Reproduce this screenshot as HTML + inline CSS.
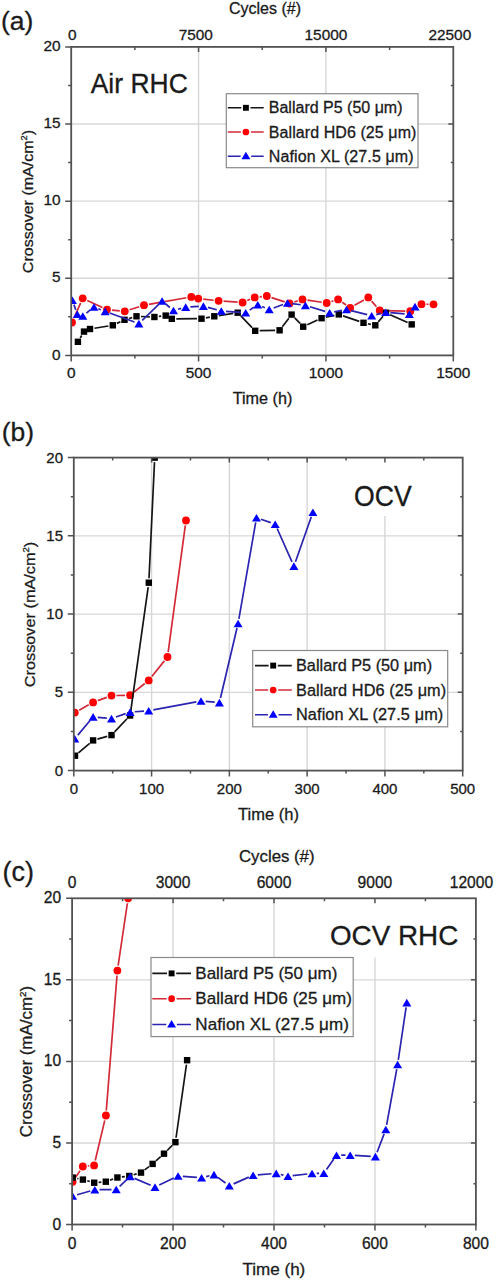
<!DOCTYPE html>
<html><head><meta charset="utf-8"><title>Crossover</title>
<style>html,body{margin:0;padding:0;background:#fff;}svg{display:block;}text{font-family:"Liberation Sans", sans-serif;fill:#1a1a1a;stroke:#1a1a1a;stroke-width:0.3px;}</style>
</head><body>
<svg width="496" height="1280" viewBox="0 0 496 1280">
<rect width="496" height="1280" fill="#fff"/>
<clipPath id="clipA"><rect x="71.2" y="46.9" width="382.1" height="308.5"/></clipPath>
<path d="M198.57,46.9V355.4M325.93,46.9V355.4M71.2,278.27H453.3M71.2,201.15H453.3M71.2,124.02H453.3" stroke="#d7d7d7" stroke-width="1.4" fill="none"/>
<g clip-path="url(#clipA)">
<path d="M74.02,317.93L80.68,302.87M87.23,300.41L102.47,307.49M111.98,310.08L119.82,310.82M129.57,309.79L139.23,306.71M148.92,304.34L186.38,297.76M203.27,299.14L213.63,300.26M223.59,301.15L237.61,302.15M247.21,300.56L250.09,299.34M259.67,296.83L261.83,296.57M271.55,297.57L284.75,301.93M294.27,302L297.73,300.9M307.45,300.14L321.75,302.26M331.47,301.49L333.33,300.91M342.21,302.25L346.09,304.95M354.54,305.31L363.96,299.89M371.6,301.16L376.4,306.64M384.7,310.53L405.3,311.07M414.54,308.55L417.26,306.85M426.5,304.24L428.5,304.26" stroke="#d42a38" stroke-width="1.7" fill="none" stroke-linecap="butt"/>
<circle cx="72" cy="322.5" r="3.9" fill="#f00"/>
<circle cx="82.7" cy="298.3" r="3.9" fill="#f00"/>
<circle cx="107" cy="309.6" r="3.9" fill="#f00"/>
<circle cx="124.8" cy="311.3" r="3.9" fill="#f00"/>
<circle cx="144" cy="305.2" r="3.9" fill="#f00"/>
<circle cx="191.3" cy="296.9" r="3.9" fill="#f00"/>
<circle cx="198.3" cy="298.6" r="3.9" fill="#f00"/>
<circle cx="218.6" cy="300.8" r="3.9" fill="#f00"/>
<circle cx="242.6" cy="302.5" r="3.9" fill="#f00"/>
<circle cx="254.7" cy="297.4" r="3.9" fill="#f00"/>
<circle cx="266.8" cy="296" r="3.9" fill="#f00"/>
<circle cx="289.5" cy="303.5" r="3.9" fill="#f00"/>
<circle cx="302.5" cy="299.4" r="3.9" fill="#f00"/>
<circle cx="326.7" cy="303" r="3.9" fill="#f00"/>
<circle cx="338.1" cy="299.4" r="3.9" fill="#f00"/>
<circle cx="350.2" cy="307.8" r="3.9" fill="#f00"/>
<circle cx="368.3" cy="297.4" r="3.9" fill="#f00"/>
<circle cx="379.7" cy="310.4" r="3.9" fill="#f00"/>
<circle cx="410.3" cy="311.2" r="3.9" fill="#f00"/>
<circle cx="421.5" cy="304.2" r="3.9" fill="#f00"/>
<circle cx="433.5" cy="304.3" r="3.9" fill="#f00"/>
<path d="M80.21,337.94L81.69,335.46M94.44,328.28L108.36,326.02M116.87,323.39L120.43,321.71M128.82,318.54L132.18,317.56M141,316.48L149.9,316.82M158.87,316.45L161.23,316.15M176.3,318.78L197,318.72M205.92,317.87L209.88,317.13M218.75,315.62L233.25,313.38M240.83,315.94L252.07,327.56M259.7,330.71L275.1,330.39M282.33,326.72L288.87,318.18M294.71,317.85L300.09,323.45M307.29,324.81L317.51,320.09M325.99,317.23L334.41,315.37M343.06,315.85L359.24,321.35M367.9,323.73L370.9,324.37M378.23,321.88L383.07,316.22M390.1,314.65L407.6,322.55" stroke="#151515" stroke-width="1.7" fill="none" stroke-linecap="butt"/>
<rect x="74.7" y="338.6" width="6.4" height="6.4" fill="#000"/>
<rect x="80.8" y="328.4" width="6.4" height="6.4" fill="#000"/>
<rect x="86.8" y="325.8" width="6.4" height="6.4" fill="#000"/>
<rect x="109.6" y="322.1" width="6.4" height="6.4" fill="#000"/>
<rect x="121.3" y="316.6" width="6.4" height="6.4" fill="#000"/>
<rect x="133.3" y="313.1" width="6.4" height="6.4" fill="#000"/>
<rect x="151.2" y="313.8" width="6.4" height="6.4" fill="#000"/>
<rect x="162.5" y="312.4" width="6.4" height="6.4" fill="#000"/>
<rect x="168.6" y="315.6" width="6.4" height="6.4" fill="#000"/>
<rect x="198.3" y="315.5" width="6.4" height="6.4" fill="#000"/>
<rect x="211.1" y="313.1" width="6.4" height="6.4" fill="#000"/>
<rect x="234.5" y="309.5" width="6.4" height="6.4" fill="#000"/>
<rect x="252" y="327.6" width="6.4" height="6.4" fill="#000"/>
<rect x="276.4" y="327.1" width="6.4" height="6.4" fill="#000"/>
<rect x="288.4" y="311.4" width="6.4" height="6.4" fill="#000"/>
<rect x="300" y="323.5" width="6.4" height="6.4" fill="#000"/>
<rect x="318.4" y="315" width="6.4" height="6.4" fill="#000"/>
<rect x="335.6" y="311.2" width="6.4" height="6.4" fill="#000"/>
<rect x="360.3" y="319.6" width="6.4" height="6.4" fill="#000"/>
<rect x="372.1" y="322.1" width="6.4" height="6.4" fill="#000"/>
<rect x="382.8" y="309.6" width="6.4" height="6.4" fill="#000"/>
<rect x="408.5" y="321.2" width="6.4" height="6.4" fill="#000"/>
<path d="M73.94,304.64L75.76,309.86M86.46,313.06L90.34,309.94M98.37,308.72L100.83,309.68M109.62,313L134.48,322M142.27,320.32L158.73,304.28M165.71,304.01L169.89,307.49M178.03,309.24L181.17,308.36M190.39,306.83L198.71,306.37M207.93,307.34L216.77,309.76M225.99,311.33L241.01,312.37M249.62,310.11L253.88,307.29M262.13,306.52L264.87,307.68M273.63,307.93L283.07,304.57M292.16,303.62L300.74,304.78M309.9,306.76L325.1,311.34M334.22,311.83L341.88,310.37M351.06,310.64L367.14,314.66M376.26,314.66L381.14,313.44M390.38,312.7L404.62,313.9M412.1,310.52L412.2,310.38" stroke="#2a24b0" stroke-width="1.7" fill="none" stroke-linecap="butt"/>
<path d="M72.4,296.42 L76.9,303.98 L67.9,303.98 Z" fill="#00f"/>
<path d="M77.3,310.52 L81.8,318.08 L72.8,318.08 Z" fill="#00f"/>
<path d="M82.8,312.22 L87.3,319.78 L78.3,319.78 Z" fill="#00f"/>
<path d="M94,303.22 L98.5,310.78 L89.5,310.78 Z" fill="#00f"/>
<path d="M105.2,307.62 L109.7,315.18 L100.7,315.18 Z" fill="#00f"/>
<path d="M138.9,319.82 L143.4,327.38 L134.4,327.38 Z" fill="#00f"/>
<path d="M162.1,297.22 L166.6,304.78 L157.6,304.78 Z" fill="#00f"/>
<path d="M173.5,306.72 L178,314.28 L169,314.28 Z" fill="#00f"/>
<path d="M185.7,303.32 L190.2,310.88 L181.2,310.88 Z" fill="#00f"/>
<path d="M203.4,302.32 L207.9,309.88 L198.9,309.88 Z" fill="#00f"/>
<path d="M221.3,307.22 L225.8,314.78 L216.8,314.78 Z" fill="#00f"/>
<path d="M245.7,308.92 L250.2,316.48 L241.2,316.48 Z" fill="#00f"/>
<path d="M257.8,300.92 L262.3,308.48 L253.3,308.48 Z" fill="#00f"/>
<path d="M269.2,305.72 L273.7,313.28 L264.7,313.28 Z" fill="#00f"/>
<path d="M287.5,299.22 L292,306.78 L283,306.78 Z" fill="#00f"/>
<path d="M305.4,301.62 L309.9,309.18 L300.9,309.18 Z" fill="#00f"/>
<path d="M329.6,308.92 L334.1,316.48 L325.1,316.48 Z" fill="#00f"/>
<path d="M346.5,305.72 L351,313.28 L342,313.28 Z" fill="#00f"/>
<path d="M371.7,312.02 L376.2,319.58 L367.2,319.58 Z" fill="#00f"/>
<path d="M385.7,308.52 L390.2,316.08 L381.2,316.08 Z" fill="#00f"/>
<path d="M409.3,310.52 L413.8,318.08 L404.8,318.08 Z" fill="#00f"/>
<path d="M415,302.82 L419.5,310.38 L410.5,310.38 Z" fill="#00f"/>
</g>
<rect x="226.3" y="93.7" width="191.7" height="74" fill="#fff" stroke="#8a8a8a" stroke-width="1.2"/>
<path d="M227.8,107.8H241.3M250.5,107.8H263.7" stroke="#151515" stroke-width="1.6"/>
<rect x="242.95" y="104.85" width="5.9" height="5.9" fill="#000"/>
<text letter-spacing="0" transform="translate(268.8,113.3) scale(1,1.0)" font-size="16">Ballard P5 (50 μm)</text>
<path d="M227.8,132H240.9M250.9,132H263.7" stroke="#d42a38" stroke-width="1.6"/>
<circle cx="245.9" cy="132" r="3.35" fill="#f00"/>
<text letter-spacing="0.08" transform="translate(268.8,137.5) scale(1,1.0)" font-size="16">Ballard HD6 (25 μm)</text>
<path d="M227.8,156.2H240.6M251.2,156.2H263.7" stroke="#2a24b0" stroke-width="1.6"/>
<path d="M245.9,151.76 L250.35,159.24 L241.45,159.24 Z" fill="#00f"/>
<text letter-spacing="0.1" transform="translate(268.8,161.7) scale(1,1.0)" font-size="16">Nafion XL (27.5 μm)</text>
<text transform="translate(90.7,92.6) scale(1,1.055)" font-size="26.5">Air RHC</text>
<path d="M71.2,355.4v6M198.57,355.4v6M198.57,46.9v5M325.93,355.4v6M325.93,46.9v5M453.3,355.4v6M134.88,355.4v3M134.88,46.9v3M262.25,355.4v3M262.25,46.9v3M389.62,355.4v3M389.62,46.9v3M71.2,355.4h-6M71.2,278.27h-6M453.3,278.27h-5M71.2,201.15h-6M453.3,201.15h-5M71.2,124.02h-6M453.3,124.02h-5M71.2,46.9h-6M71.2,316.84h-3M453.3,316.84h-2.5M71.2,239.71h-3M453.3,239.71h-2.5M71.2,162.59h-3M453.3,162.59h-2.5M71.2,85.46h-3M453.3,85.46h-2.5" stroke="#525252" stroke-width="1.5" fill="none"/>
<rect x="71.2" y="46.9" width="382.1" height="308.5" fill="none" stroke="#525252" stroke-width="1.8"/>
<text transform="translate(71.2,377.6) scale(1,1.0)" font-size="15.4" text-anchor="middle">0</text>
<text transform="translate(198.57,377.6) scale(1,1.0)" font-size="15.4" text-anchor="middle">500</text>
<text transform="translate(325.93,377.6) scale(1,1.0)" font-size="15.4" text-anchor="middle">1000</text>
<text transform="translate(453.3,377.6) scale(1,1.0)" font-size="15.4" text-anchor="middle">1500</text>
<text transform="translate(60.6,359.6) scale(1,1.0)" font-size="15.4" text-anchor="end">0</text>
<text transform="translate(60.6,282.47) scale(1,1.0)" font-size="15.4" text-anchor="end">5</text>
<text transform="translate(60.6,205.35) scale(1,1.0)" font-size="15.4" text-anchor="end">10</text>
<text transform="translate(60.6,128.22) scale(1,1.0)" font-size="15.4" text-anchor="end">15</text>
<text transform="translate(60.6,51.1) scale(1,1.0)" font-size="15.4" text-anchor="end">20</text>
<text transform="translate(72.2,39.8) scale(1,1.0)" font-size="15.4" text-anchor="middle">0</text>
<text transform="translate(195.8,39.8) scale(1,1.0)" font-size="15.4" text-anchor="middle">7500</text>
<text transform="translate(325.93,39.8) scale(1,1.0)" font-size="15.4" text-anchor="middle">15000</text>
<text transform="translate(449.8,39.8) scale(1,1.0)" font-size="15.4" text-anchor="middle">22500</text>
<text transform="translate(229,13.6) scale(1,1.0)" font-size="16">Cycles (#)</text>
<text transform="translate(262.5,404) scale(1,1.0)" font-size="16.2" text-anchor="middle">Time (h)</text>
<text transform="translate(33,201.5) rotate(-90) scale(1,0.93)" font-size="16.05" text-anchor="middle">Crossover (mA/cm<tspan font-size="9.31" dy="-6.1">2</tspan><tspan dy="6.1">)</tspan></text>
<text transform="translate(1,29.5) scale(1,1.0)" font-size="26.5">(a)</text>
<clipPath id="clipB"><rect x="73.8" y="457.6" width="388.9" height="313"/></clipPath>
<path d="M151.58,457.6V770.6M229.36,457.6V770.6M307.14,457.6V770.6M384.92,457.6V770.6M73.8,692.35H462.7M73.8,614.1H462.7M73.8,535.85H462.7" stroke="#d7d7d7" stroke-width="1.4" fill="none"/>
<rect x="344" y="458" width="78" height="58" fill="#fff"/>
<g clip-path="url(#clipB)">
<path d="M79.17,710.17L88.73,704.83M97.79,700.67L106.81,697.33M116.5,695.49L125.1,695.31M134.01,692.09L144.79,683.51M151.83,676.5L164.37,660.9M168.17,652.05L185.33,525.45" stroke="#d42a38" stroke-width="1.7" fill="none" stroke-linecap="butt"/>
<circle cx="74.8" cy="712.6" r="3.9" fill="#f00"/>
<circle cx="93.1" cy="702.4" r="3.9" fill="#f00"/>
<circle cx="111.5" cy="695.6" r="3.9" fill="#f00"/>
<circle cx="130.1" cy="695.2" r="3.9" fill="#f00"/>
<circle cx="148.7" cy="680.4" r="3.9" fill="#f00"/>
<circle cx="167.5" cy="657" r="3.9" fill="#f00"/>
<circle cx="186" cy="520.5" r="3.9" fill="#f00"/>
<path d="M78.44,752.79L89.66,743.31M97.42,739.15L107.18,736.35M114.6,731.84L127,718.76M130.73,711.04L148.17,587.16M149.01,578.2L154.49,462.1" stroke="#151515" stroke-width="1.7" fill="none" stroke-linecap="butt"/>
<rect x="71.8" y="752.5" width="6.4" height="6.4" fill="#000"/>
<rect x="89.9" y="737.2" width="6.4" height="6.4" fill="#000"/>
<rect x="108.3" y="731.9" width="6.4" height="6.4" fill="#000"/>
<rect x="126.9" y="712.3" width="6.4" height="6.4" fill="#000"/>
<rect x="145.6" y="579.5" width="6.4" height="6.4" fill="#000"/>
<rect x="151.5" y="454.4" width="6.4" height="6.4" fill="#000"/>
<path d="M77.82,735.1L90.08,720.5M97.78,717.33L106.82,718.17M115.94,717.05L125.66,713.65M134.79,711.75L144.01,711.05M153.32,709.84L196.38,701.86M205.68,701.41L214.72,702.19M220.48,698.03L237.02,628.07M238.91,618.87L255.69,522.33M260.94,519.24L270.76,522.66M277.12,528.49L291.98,561.81M295.47,561.67L311.33,516.73" stroke="#2a24b0" stroke-width="1.7" fill="none" stroke-linecap="butt"/>
<path d="M74.8,734.92 L79.3,742.48 L70.3,742.48 Z" fill="#00f"/>
<path d="M93.1,713.12 L97.6,720.68 L88.6,720.68 Z" fill="#00f"/>
<path d="M111.5,714.82 L116,722.38 L107,722.38 Z" fill="#00f"/>
<path d="M130.1,708.32 L134.6,715.88 L125.6,715.88 Z" fill="#00f"/>
<path d="M148.7,706.92 L153.2,714.48 L144.2,714.48 Z" fill="#00f"/>
<path d="M201,697.22 L205.5,704.78 L196.5,704.78 Z" fill="#00f"/>
<path d="M219.4,698.82 L223.9,706.38 L214.9,706.38 Z" fill="#00f"/>
<path d="M238.1,619.72 L242.6,627.28 L233.6,627.28 Z" fill="#00f"/>
<path d="M256.5,513.92 L261,521.48 L252,521.48 Z" fill="#00f"/>
<path d="M275.2,520.42 L279.7,527.98 L270.7,527.98 Z" fill="#00f"/>
<path d="M293.9,562.32 L298.4,569.88 L289.4,569.88 Z" fill="#00f"/>
<path d="M312.9,508.52 L317.4,516.08 L308.4,516.08 Z" fill="#00f"/>
</g>
<rect x="252.7" y="650.5" width="195" height="76.3" fill="#fff" stroke="#8a8a8a" stroke-width="1.2"/>
<path d="M255,665.6H268.6M277.8,665.6H291.8" stroke="#151515" stroke-width="1.6"/>
<rect x="270.25" y="662.65" width="5.9" height="5.9" fill="#000"/>
<text letter-spacing="0" transform="translate(296,671.1) scale(1,1.0)" font-size="16.3">Ballard P5 (50 μm)</text>
<path d="M255,690H268.2M278.2,690H291.8" stroke="#d42a38" stroke-width="1.6"/>
<circle cx="273.2" cy="690" r="3.35" fill="#f00"/>
<text letter-spacing="0.08" transform="translate(296,695.5) scale(1,1.0)" font-size="16.3">Ballard HD6 (25 μm)</text>
<path d="M255,714.8H267.9M278.5,714.8H291.8" stroke="#2a24b0" stroke-width="1.6"/>
<path d="M273.2,710.36 L277.65,717.84 L268.75,717.84 Z" fill="#00f"/>
<text letter-spacing="0.1" transform="translate(296,720.3) scale(1,1.0)" font-size="16.3">Nafion XL (27.5 μm)</text>
<text transform="translate(354,505.6) scale(1,1.08)" font-size="26.6">OCV</text>
<path d="M73.8,770.6v6M151.58,770.6v6M151.58,457.6v5M229.36,770.6v6M229.36,457.6v5M307.14,770.6v6M307.14,457.6v5M384.92,770.6v6M384.92,457.6v5M462.7,770.6v6M112.69,770.6v3M112.69,457.6v3M190.47,770.6v3M190.47,457.6v3M268.25,770.6v3M268.25,457.6v3M346.03,770.6v3M346.03,457.6v3M423.81,770.6v3M423.81,457.6v3M73.8,770.6h-6M73.8,692.35h-6M462.7,692.35h-5M73.8,614.1h-6M462.7,614.1h-5M73.8,535.85h-6M462.7,535.85h-5M73.8,457.6h-6M73.8,731.48h-3M462.7,731.48h-2.5M73.8,653.23h-3M462.7,653.23h-2.5M73.8,574.98h-3M462.7,574.98h-2.5M73.8,496.73h-3M462.7,496.73h-2.5" stroke="#525252" stroke-width="1.5" fill="none"/>
<rect x="73.8" y="457.6" width="388.9" height="313" fill="none" stroke="#525252" stroke-width="1.8"/>
<text transform="translate(73.8,794) scale(1,1.0)" font-size="15" text-anchor="middle">0</text>
<text transform="translate(151.58,794) scale(1,1.0)" font-size="15" text-anchor="middle">100</text>
<text transform="translate(229.36,794) scale(1,1.0)" font-size="15" text-anchor="middle">200</text>
<text transform="translate(307.14,794) scale(1,1.0)" font-size="15" text-anchor="middle">300</text>
<text transform="translate(384.92,794) scale(1,1.0)" font-size="15" text-anchor="middle">400</text>
<text transform="translate(462.7,794) scale(1,1.0)" font-size="15" text-anchor="middle">500</text>
<text transform="translate(63,775.6) scale(1,1.0)" font-size="15" text-anchor="end">0</text>
<text transform="translate(63,697.35) scale(1,1.0)" font-size="15" text-anchor="end">5</text>
<text transform="translate(63,619.1) scale(1,1.0)" font-size="15" text-anchor="end">10</text>
<text transform="translate(63,540.85) scale(1,1.0)" font-size="15" text-anchor="end">15</text>
<text transform="translate(63,462.6) scale(1,1.0)" font-size="15" text-anchor="end">20</text>
<text transform="translate(268.5,820.4) scale(1,1.0)" font-size="16.5" text-anchor="middle">Time (h)</text>
<text transform="translate(35.1,614.5) rotate(-90) scale(1,0.93)" font-size="16.3" text-anchor="middle">Crossover (mA/cm<tspan font-size="9.45" dy="-6.19">2</tspan><tspan dy="6.19">)</tspan></text>
<text transform="translate(1.8,440.5) scale(1,1.0)" font-size="26.5">(b)</text>
<clipPath id="clipC"><rect x="72.1" y="898.3" width="403.8" height="326.2"/></clipPath>
<path d="M173.05,898.3V1224.5M274,898.3V1224.5M374.95,898.3V1224.5M72.1,1142.95H475.9M72.1,1061.4H475.9M72.1,979.85H475.9" stroke="#d7d7d7" stroke-width="1.4" fill="none"/>
<rect x="320" y="899" width="148" height="58.5" fill="#fff"/>
<g clip-path="url(#clipC)">
<path d="M75.37,1177.64L80.03,1170.66M87.78,1166.02L89.12,1165.88M95.25,1160.53L104.75,1120.37M106.3,1110.52L117,975.58M118.13,965.65L127.37,903.25" stroke="#d42a38" stroke-width="1.7" fill="none" stroke-linecap="butt"/>
<circle cx="72.6" cy="1181.8" r="3.9" fill="#f00"/>
<circle cx="82.8" cy="1166.5" r="3.9" fill="#f00"/>
<circle cx="94.1" cy="1165.4" r="3.9" fill="#f00"/>
<circle cx="105.9" cy="1115.5" r="3.9" fill="#f00"/>
<circle cx="117.4" cy="970.6" r="3.9" fill="#f00"/>
<circle cx="128.1" cy="898.3" r="3.9" fill="#f00"/>
<path d="M77.21,1178.47L78.49,1178.73M87.24,1180.79L89.86,1181.51M98.68,1182.31L101.32,1182.09M110.03,1180.17L113.17,1179.03M121.86,1176.94L124.84,1176.56M133.62,1174.74L136.68,1173.86M144.6,1169.9L149,1166.6M155.95,1160.9L160.65,1156.7M167.17,1150.5L172.23,1145.4M176.04,1137.75L186.46,1064.65" stroke="#151515" stroke-width="1.7" fill="none" stroke-linecap="butt"/>
<rect x="69.6" y="1174.4" width="6.4" height="6.4" fill="#000"/>
<rect x="79.7" y="1176.4" width="6.4" height="6.4" fill="#000"/>
<rect x="91" y="1179.5" width="6.4" height="6.4" fill="#000"/>
<rect x="102.6" y="1178.5" width="6.4" height="6.4" fill="#000"/>
<rect x="114.2" y="1174.3" width="6.4" height="6.4" fill="#000"/>
<rect x="126.1" y="1172.8" width="6.4" height="6.4" fill="#000"/>
<rect x="137.8" y="1169.4" width="6.4" height="6.4" fill="#000"/>
<rect x="149.4" y="1160.7" width="6.4" height="6.4" fill="#000"/>
<rect x="160.8" y="1150.5" width="6.4" height="6.4" fill="#000"/>
<rect x="172.2" y="1139" width="6.4" height="6.4" fill="#000"/>
<rect x="183.9" y="1057" width="6.4" height="6.4" fill="#000"/>
<path d="M77.12,1194.72L90.28,1190.98M99.5,1189.66L111.5,1189.54M119.64,1186.3L126.76,1179.7M134.52,1178.35L150.68,1185.25M159.24,1185.06L173.86,1178.04M182.79,1176.36L196.91,1177.44M206.15,1176.63L209.45,1175.77M217.79,1177.38L225.51,1183.02M233.59,1183.89L248.81,1177.11M257.79,1174.83L271.51,1173.77M280.77,1174.49L283.43,1175.11M292.67,1175.67L307.33,1174.03M316.7,1173.42L319.1,1173.38M326.5,1169.45L333.8,1159.05M341.2,1155.2L345.5,1155.2M354.89,1155.46L370.71,1156.34M377.08,1152.21L384.12,1133.89M386.64,1124.88L396.76,1069.12M398.29,1059.85L406.11,1007.25" stroke="#2a24b0" stroke-width="1.7" fill="none" stroke-linecap="butt"/>
<path d="M72.6,1192.22 L77.1,1199.78 L68.1,1199.78 Z" fill="#00f"/>
<path d="M94.8,1185.92 L99.3,1193.48 L90.3,1193.48 Z" fill="#00f"/>
<path d="M116.2,1185.72 L120.7,1193.28 L111.7,1193.28 Z" fill="#00f"/>
<path d="M130.2,1172.72 L134.7,1180.28 L125.7,1180.28 Z" fill="#00f"/>
<path d="M155,1183.32 L159.5,1190.88 L150.5,1190.88 Z" fill="#00f"/>
<path d="M178.1,1172.22 L182.6,1179.78 L173.6,1179.78 Z" fill="#00f"/>
<path d="M201.6,1174.02 L206.1,1181.58 L197.1,1181.58 Z" fill="#00f"/>
<path d="M214,1170.82 L218.5,1178.38 L209.5,1178.38 Z" fill="#00f"/>
<path d="M229.3,1182.02 L233.8,1189.58 L224.8,1189.58 Z" fill="#00f"/>
<path d="M253.1,1171.42 L257.6,1178.98 L248.6,1178.98 Z" fill="#00f"/>
<path d="M276.2,1169.62 L280.7,1177.18 L271.7,1177.18 Z" fill="#00f"/>
<path d="M288,1172.42 L292.5,1179.98 L283.5,1179.98 Z" fill="#00f"/>
<path d="M312,1169.72 L316.5,1177.28 L307.5,1177.28 Z" fill="#00f"/>
<path d="M323.8,1169.52 L328.3,1177.08 L319.3,1177.08 Z" fill="#00f"/>
<path d="M336.5,1151.42 L341,1158.98 L332,1158.98 Z" fill="#00f"/>
<path d="M350.2,1151.42 L354.7,1158.98 L345.7,1158.98 Z" fill="#00f"/>
<path d="M375.4,1152.82 L379.9,1160.38 L370.9,1160.38 Z" fill="#00f"/>
<path d="M385.8,1125.72 L390.3,1133.28 L381.3,1133.28 Z" fill="#00f"/>
<path d="M397.6,1060.72 L402.1,1068.28 L393.1,1068.28 Z" fill="#00f"/>
<path d="M406.8,998.82 L411.3,1006.38 L402.3,1006.38 Z" fill="#00f"/>
</g>
<rect x="151" y="957.5" width="202.2" height="79.1" fill="#fff" stroke="#8a8a8a" stroke-width="1.2"/>
<path d="M152.3,973.4H167M176.2,973.4H191" stroke="#151515" stroke-width="1.6"/>
<rect x="168.65" y="970.45" width="5.9" height="5.9" fill="#000"/>
<text letter-spacing="0" transform="translate(195.3,979.1) scale(1,1.0)" font-size="17">Ballard P5 (50 μm)</text>
<path d="M152.3,998.7H166.6M176.6,998.7H191" stroke="#d42a38" stroke-width="1.6"/>
<circle cx="171.6" cy="998.7" r="3.35" fill="#f00"/>
<text letter-spacing="0.08" transform="translate(195.3,1004.4) scale(1,1.0)" font-size="17">Ballard HD6 (25 μm)</text>
<path d="M152.3,1024.5H166.3M176.9,1024.5H191" stroke="#2a24b0" stroke-width="1.6"/>
<path d="M171.6,1020.06 L176.05,1027.54 L167.15,1027.54 Z" fill="#00f"/>
<text letter-spacing="0.1" transform="translate(195.3,1030.2) scale(1,1.0)" font-size="17">Nafion XL (27.5 μm)</text>
<text transform="translate(329.9,944.7) scale(1,1.01)" font-size="27.85">OCV RHC</text>
<path d="M72.1,1224.5v6M173.05,1224.5v6M173.05,898.3v5M274,1224.5v6M274,898.3v5M374.95,1224.5v6M374.95,898.3v5M475.9,1224.5v6M122.57,1224.5v3M122.57,898.3v3M223.52,1224.5v3M223.52,898.3v3M324.47,1224.5v3M324.47,898.3v3M425.42,1224.5v3M425.42,898.3v3M72.1,1224.5h-6M72.1,1142.95h-6M475.9,1142.95h-5M72.1,1061.4h-6M475.9,1061.4h-5M72.1,979.85h-6M475.9,979.85h-5M72.1,898.3h-6M72.1,1183.72h-3M475.9,1183.72h-2.5M72.1,1102.17h-3M475.9,1102.17h-2.5M72.1,1020.62h-3M475.9,1020.62h-2.5M72.1,939.07h-3M475.9,939.07h-2.5" stroke="#525252" stroke-width="1.5" fill="none"/>
<rect x="72.1" y="898.3" width="403.8" height="326.2" fill="none" stroke="#525252" stroke-width="1.8"/>
<text transform="translate(72.1,1248.9) scale(1,1.0)" font-size="15.6" text-anchor="middle">0</text>
<text transform="translate(173.05,1248.9) scale(1,1.0)" font-size="15.6" text-anchor="middle">200</text>
<text transform="translate(274,1248.9) scale(1,1.0)" font-size="15.6" text-anchor="middle">400</text>
<text transform="translate(374.95,1248.9) scale(1,1.0)" font-size="15.6" text-anchor="middle">600</text>
<text transform="translate(475.9,1248.9) scale(1,1.0)" font-size="15.6" text-anchor="middle">800</text>
<text transform="translate(61.2,1229.5) scale(1,1.0)" font-size="15.6" text-anchor="end">0</text>
<text transform="translate(61.2,1147.95) scale(1,1.0)" font-size="15.6" text-anchor="end">5</text>
<text transform="translate(61.2,1066.4) scale(1,1.0)" font-size="15.6" text-anchor="end">10</text>
<text transform="translate(61.2,984.85) scale(1,1.0)" font-size="15.6" text-anchor="end">15</text>
<text transform="translate(61.2,903.3) scale(1,1.0)" font-size="15.6" text-anchor="end">20</text>
<text transform="translate(72.1,887.8) scale(1,1.0)" font-size="15.6" text-anchor="middle">0</text>
<text transform="translate(173.05,887.8) scale(1,1.0)" font-size="15.6" text-anchor="middle">3000</text>
<text transform="translate(274,887.8) scale(1,1.0)" font-size="15.6" text-anchor="middle">6000</text>
<text transform="translate(374.95,887.8) scale(1,1.0)" font-size="15.6" text-anchor="middle">9000</text>
<text transform="translate(471.4,887.8) scale(1,1.0)" font-size="15.6" text-anchor="middle">12000</text>
<text transform="translate(239,862.1) scale(1,1.0)" font-size="16.8">Cycles (#)</text>
<text transform="translate(273.9,1275.2) scale(1,1.0)" font-size="17.05" text-anchor="middle">Time (h)</text>
<text transform="translate(32,1061.5) rotate(-90) scale(1,0.93)" font-size="16.95" text-anchor="middle">Crossover (mA/cm<tspan font-size="9.83" dy="-6.44">2</tspan><tspan dy="6.44">)</tspan></text>
<text transform="translate(2.6,880.8) scale(1,1.0)" font-size="27">(c)</text>
</svg>
</body></html>
